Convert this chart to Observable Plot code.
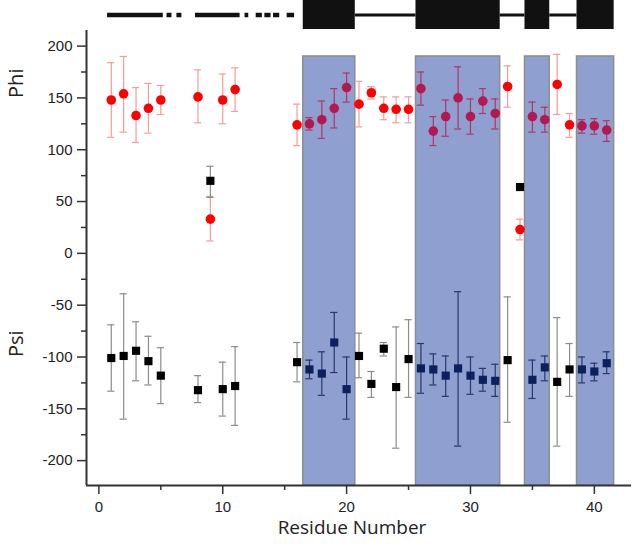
<!DOCTYPE html>
<html>
<head>
<meta charset="utf-8">
<script src="https://cdn.jsdelivr.net/npm/d3@7"></script>
<script src="https://cdn.jsdelivr.net/npm/@observablehq/plot@0.6"></script>
<style>
  html, body { margin: 0; padding: 0; background: #fff; }
  #chart { width: 632px; height: 545px; }
</style>
</head>
<body>
<div id="chart"></div>
<script>
// ---- data ----
const residues = [1,2,3,4,5,8,9,10,11,16,17,18,19,20,21,22,23,24,25,26,27,28,29,30,31,32,33,34,35,36,37,38,39,40,41];
const phiValue = [148,154,133,140,148,151,33,148,158,124,125,129,140,160,144,155,140,139,139,159,118,132,150,132,147,135,161,23,132,129,163,124,123,123,119];
const phiHigh  = [184,190,160,164,162,177,55,173,179,144,131,147,159,174,166,161,151,151,151,175,132,148,180,149,159,149,181,33,146,141,192,135,129,130,128];
const phiLow   = [112,117,107,116,134,126,12,125,137,104,119,111,121,146,122,149,129,126,126,143,104,113,120,115,135,120,141,13,117,117,134,112,116,115,108];
const psiValue = [-101,-99,-94,-104,-118,-132,70,-131,-128,-105,-112,-116,-86,-131,-99,-126,-92,-129,-102,-111,-112,-118,-111,-118,-122,-123,-103,64,-122,-110,-124,-112,-112,-114,-106];
const psiHigh  = [-69,-39,-66,-80,-91,-118,84,-105,-90,-86,-103,-95,-57,-100,-77,-114,-86,-71,-64,-87,-97,-99,-37,-100,-111,-107,-42,64,-103,-99,-62,-87,-100,-106,-95];
const psiLow   = [-133,-160,-123,-127,-145,-144,54,-157,-166,-124,-121,-137,-115,-160,-120,-139,-99,-188,-139,-135,-127,-138,-186,-136,-133,-138,-163,64,-140,-123,-186,-138,-125,-123,-116];

// shaded regions (residue ranges) = solid blocks in the top secondary-structure bar
const bandStart = [16.5, 25.6, 34.4, 38.6];
const bandEnd   = [20.7, 32.4, 36.4, 41.6];
// connecting lines between blocks in the top bar
const linkStart = [20.7, 32.4, 36.4];
const linkEnd   = [25.6, 34.4, 38.6];
// thick / dotted segments at the left of the top bar
const segStart = [0.7, 5.5, 6.3, 7.8, 11.8, 12.7, 13.4, 14.1, 15.2];
const segEnd   = [5.2, 5.9, 6.7, 11.4, 12.1, 13.2, 13.9, 14.6, 15.8];

const yTicks = [-200,-150,-100,-50,0,50,100,150,200];
const yMinor = [-175,-125,-75,-25,25,75,125,175];
const xTicks = [0,10,20,30,40];
const xMinor = [5,15,25,35];
const xDomain = [-1, 43];
const yDomain = [-224, 244];
const yAxisTop = 215;
const bandTop = 190;
const barBottom = 216, barTop = 244, barLine = 230;

// ---- build tables ----
const bands = bandStart.map((s, i) => ({x1: s, x2: bandEnd[i]}));
const inBand = r => bands.some(b => r > b.x1 && r < b.x2);
const phi = residues.map((r, i) => ({r, v: phiValue[i], hi: phiHigh[i], lo: phiLow[i], inside: inBand(r)}));
const psi = residues.map((r, i) => ({r, v: psiValue[i], hi: psiHigh[i], lo: psiLow[i], inside: inBand(r)}));
const links = linkStart.map((s, i) => ({x1: s, x2: linkEnd[i]}));
const segs = segStart.map((s, i) => ({x1: s, x2: segEnd[i]}));

const capHalf = 0.29;
const col = {
  phiDot: d => d.inside ? "#b5184f" : "#ff0000",
  phiErr: d => d.inside ? "#b23468" : "#f29c9c",
  psiDot: d => d.inside ? "#0d205e" : "#000000",
  psiErr: d => d.inside ? "#26386e" : "#8c8c8c"
};

function errorMarks(data, errColor) {
  return [
    Plot.ruleX(data, {x: "r", y1: "lo", y2: "hi", stroke: errColor, strokeWidth: 1.2}),
    Plot.ruleY(data, {y: "hi", x1: d => d.r - capHalf, x2: d => d.r + capHalf, stroke: errColor, strokeWidth: 1.2}),
    Plot.ruleY(data, {y: "lo", x1: d => d.r - capHalf, x2: d => d.r + capHalf, stroke: errColor, strokeWidth: 1.2})
  ];
}

const plain = d => `${d}`;

const chart = Plot.plot({
  width: 632,
  height: 545,
  marginLeft: 86,
  marginRight: 1,
  marginTop: 0,
  marginBottom: 60,
  x: {domain: xDomain, axis: null},
  y: {domain: yDomain, axis: null},
  style: {fontFamily: "Liberation Sans, Arial, sans-serif", fontSize: "15px", color: "#222", background: "#fff"},
  marks: [
    Plot.rect(bands, {x1: "x1", x2: "x2", y1: yDomain[0], y2: bandTop, fill: "#8f9fcf", stroke: "#8e8e8e", strokeWidth: 1.5}),
    ...errorMarks(phi.filter(d => d.hi !== d.lo), col.phiErr),
    ...errorMarks(psi.filter(d => d.hi !== d.lo), col.psiErr),
    Plot.dot(phi, {x: "r", y: "v", r: 4.8, fill: col.phiDot, stroke: "none"}),
    Plot.dot(psi, {x: "r", y: "v", r: 4.6, symbol: "square", fill: col.psiDot, stroke: "none"}),
    // top secondary-structure bar
    Plot.rect(bands, {x1: "x1", x2: "x2", y1: barBottom, y2: barTop, fill: "#111"}),
    Plot.ruleY(links, {x1: "x1", x2: "x2", y: barLine, stroke: "#111", strokeWidth: 3}),
    Plot.ruleY(segs, {x1: "x1", x2: "x2", y: barLine, stroke: "#111", strokeWidth: 4.5}),
    // axes
    Plot.ruleX([xDomain[0]], {y1: yDomain[0], y2: yAxisTop, stroke: "#333", strokeWidth: 2}),
    Plot.ruleY([yDomain[0]], {x1: xDomain[0], x2: xDomain[1], stroke: "#333", strokeWidth: 2}),
    Plot.axisY(yTicks, {anchor: "left", tickSize: 9, tickPadding: 5, tickFormat: plain, stroke: "#333", strokeWidth: 1.5, fill: "#222"}),
    Plot.axisY(yMinor, {anchor: "left", tickSize: 5, tickFormat: () => "", stroke: "#333", strokeWidth: 1.5}),
    Plot.axisX(xTicks, {anchor: "bottom", tickSize: 9, tickPadding: 7, tickFormat: plain, stroke: "#333", strokeWidth: 1.5, fill: "#222"}),
    Plot.axisX(xMinor, {anchor: "bottom", tickSize: 5, tickFormat: () => "", stroke: "#333", strokeWidth: 1.5}),
    // axis titles
    Plot.text(["Phi"], {y: [150], frameAnchor: "left", dx: -70, rotate: -90, text: d => d, fontSize: 20, fill: "#222", fontFamily: "Open Sans, sans-serif"}),
    Plot.text(["Psi"], {y: [-100], frameAnchor: "left", dx: -70, rotate: -90, text: d => d, fontSize: 20, fill: "#222", fontFamily: "Open Sans, sans-serif"}),
    Plot.text(["Residue Number"], {frameAnchor: "bottom", dx: -7, dy: 48, text: d => d, fontSize: 19, fill: "#222", fontFamily: "Open Sans, sans-serif"})
  ]
});
document.getElementById("chart").appendChild(chart);
</script>
</body>
</html>
